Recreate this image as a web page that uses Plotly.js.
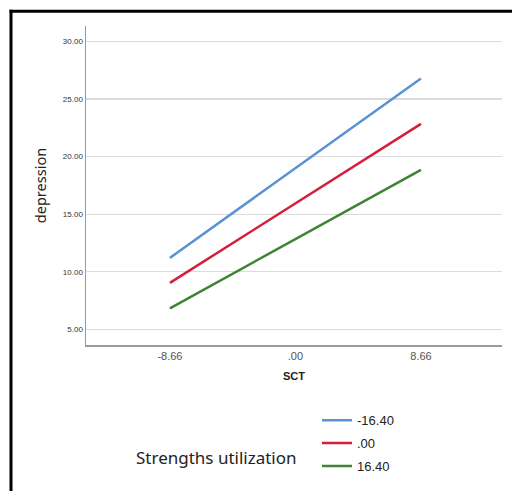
<!DOCTYPE html>
<html>
<head>
<meta charset="utf-8">
<script src="https://cdn.plot.ly/plotly-3.0.1.min.js"></script>
<style>html,body{margin:0;padding:0;background:#fff;}#chart{width:512px;height:491px;}</style>
</head>
<body>
<div id="chart"></div>
<script>
const sctValues = [-8.66, 8.66];
const xTickVals = [-8.66, 0, 8.66];
const xTickText = ["-8.66", ".00", "8.66"];
const yTickVals = [5, 10, 15, 20, 25, 30];
const yTickText = ["5.00", "10.00", "15.00", "20.00", "25.00", "30.00"];
const seriesNames = ["-16.40", ".00", "16.40"];
const seriesLow = [11.2, 9.03, 6.82];
const seriesHigh = [26.78, 22.84, 18.85];
const colors = ["#5b93d2", "#d41e3c", "#3e8533"];

const traces = seriesNames.map((n, i) => ({
  x: sctValues,
  y: [seriesLow[i], seriesHigh[i]],
  type: "scatter",
  mode: "lines",
  name: n,
  legendgroup: "g" + i,
  line: {color: colors[i], width: 2.5}
}));

const W = 512, H = 491, ml = 86, mr = 10, mt = 26, mb = 142;
const pw = W - ml - mr, ph = H - mt - mb;
const px = v => (v - ml) / pw;
const py = v => (H - mb - v) / ph;

const layout = {
  width: W, height: H,
  margin: {l: ml, r: mr, t: mt, b: mb, pad: 0},
  paper_bgcolor: "#fff", plot_bgcolor: "#fff",
  showlegend: true,
  xaxis: {
    range: [-14.45, 14.25],
    tickvals: xTickVals, ticktext: xTickText,
    showgrid: false, zeroline: false,
    showline: true, linecolor: "#9a9a9a", linewidth: 1.5,
    ticks: "", ticklen: 0,
    tickfont: {family: "Liberation Sans, Arial, sans-serif", size: 11, color: "#555"},
    title: {text: "<b>SCT</b>", font: {family: "Liberation Sans, Arial, sans-serif", size: 11, color: "#222"}, standoff: 11},
    automargin: false
  },
  yaxis: {
    range: [3.63, 31.35],
    tickvals: yTickVals, ticktext: yTickText,
    showgrid: true, gridcolor: "#dcdcdc", gridwidth: 1.2,
    zeroline: false,
    showline: true, linecolor: "#9a9a9a", linewidth: 1.5,
    ticks: "", ticklen: 0,
    tickfont: {family: "Liberation Sans, Arial, sans-serif", size: 8, color: "#333"},
    title: {text: "depression", font: {family: "Noto Sans, sans-serif", size: 14.5, color: "#222"}, standoff: 13},
    automargin: false
  },
  legend: {
    x: px(317), y: py(410), xanchor: "left", yanchor: "top",
    bgcolor: "rgba(0,0,0,0)",
    font: {family: "Liberation Sans, Arial, sans-serif", size: 13, color: "#222"},
    traceorder: "grouped", tracegroupgap: 3,
    itemwidth: 30
  },
  annotations: [{
    xref: "paper", yref: "paper", x: px(216), y: py(463),
    xanchor: "center", yanchor: "middle", showarrow: false,
    text: "Strengths utilization",
    font: {family: "Noto Sans, sans-serif", size: 17, color: "#222"}
  }],
  shapes: [
    {type: "line", xref: "paper", yref: "paper", x0: px(11), x1: px(11), y0: py(9.5), y1: py(500), line: {color: "#000", width: 3}},
    {type: "line", xref: "paper", yref: "paper", x0: px(9.5), x1: px(520), y0: py(11), y1: py(11), line: {color: "#000", width: 3}}
  ]
};

Plotly.newPlot("chart", traces, layout, {displayModeBar: false, staticPlot: true});
</script>
</body>
</html>
